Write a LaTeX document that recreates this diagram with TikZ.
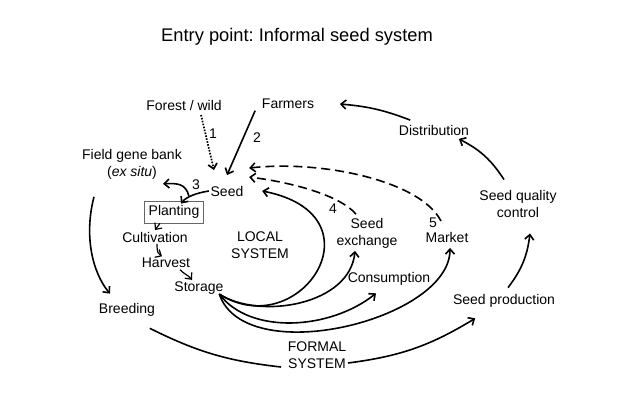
\documentclass[tikz,border=0pt]{standalone}
\usepackage{fontspec}
\setmainfont{Liberation Sans}
\usetikzlibrary{arrows.meta}
\frenchspacing
\begin{document}
\begin{tikzpicture}[x=1pt,y=-1pt,>={Straight Barb[length=5pt,width=9pt]},
    font=\fontsize{14}{17}\selectfont,line width=1.6pt,
    every node/.style={inner sep=1pt,align=center},
    box/.style={draw=black!60,line width=0.8pt,inner xsep=4pt,minimum height=22pt},
    dotline/.style={dash pattern=on 1.6pt off 1.4pt,line width=1.7pt},
    dashline/.style={dash pattern=on 9pt off 5pt}]
  \useasboundingbox (0,0) rectangle (640,400);
  \node (title) at (297,37) {\fontsize{18.3}{20}\selectfont Entry point: Informal seed system};
  % local system
  \node (forest) at (184,105) {Forest / wild};
  \node (farmers) at (288,104) {Farmers};
  \node (genebank) at (132,164) {Field gene bank\\(\textit{ex situ})};
  \node (seed) at (227,191) {Seed};
  \node (planting) [box] at (174,212) {Planting};
  \node (cultiv) at (155,237) {Cultivation};
  \node (harvest) at (166,263) {Harvest};
  \node (storage) at (199,288) {Storage};
  \node (local) at (260,245) {LOCAL\\SYSTEM};
  \node (exch) at (367,233) {Seed\\exchange};
  \node (market) at (447,237) {Market};
  \node (consum) at (389,279) {Consumption};
  \node (n1) at (213,134) {1};
  \node (n2) at (257,138) {2};
  \node (n3) at (196,185) {3};
  \node (n4) at (333,209) {4};
  \node (n5) at (433,223) {5};
  % formal system
  \node (distrib) at (434,130) {Distribution};
  \node (quality) at (518,204) {Seed quality\\control};
  \node (prod) at (504,301) {Seed production};
  \node (breeding) at (127,310) {Breeding};
  \node (formal) at (317,355) {FORMAL\\SYSTEM};

  \draw[->,dotline] ([xshift=17pt,yshift=-3pt]forest.south) -- ([xshift=-13pt,yshift=14pt]seed.north);
  \draw[->] ([xshift=-5pt]farmers.south west) -- ([yshift=9pt]seed.north);
  \draw[->] ([xshift=-20pt,yshift=-5pt]seed.west) .. controls (186,184) and (178,183) .. ([xshift=31pt,yshift=-3pt]genebank.south);
  \draw[->] (seed.west) .. controls (196,193) and (186,197) .. ([xshift=7pt,yshift=-3pt]planting.north);
  \draw[->,line width=1.2pt] ([xshift=-14pt]planting.south) -- (cultiv.north);
  \draw[->,line width=1.2pt] ([xshift=2pt]cultiv.south) .. controls (157,252) and (158,254) .. ([xshift=-4pt]harvest.north);
  \draw[->,line width=1.2pt] ([xshift=14pt]harvest.south) .. controls (184,274) and (188,275) .. ([xshift=-7pt]storage.north);
  \draw[->] ([xshift=-6pt,yshift=2pt]storage.south east) .. controls (300,345) and (385,215) .. ([xshift=17pt]seed.east);
  \draw[->] ([xshift=-6pt,yshift=2pt]storage.south east) .. controls (260,320) and (350,305) .. ([xshift=-12pt,yshift=-1pt]exch.south);
  \draw[->] ([xshift=-6pt,yshift=2pt]storage.south east) .. controls (250,335) and (330,330) .. ([xshift=-13pt,yshift=-6pt]consum.south);
  \draw[->] ([xshift=-6pt,yshift=2pt]storage.south east) .. controls (245,370) and (450,320) .. ([xshift=3pt,yshift=-4pt]market.south);
  \draw[->,dashline] ([xshift=-11pt,yshift=2pt]exch.north) .. controls (340,195) and (290,182) .. ([xshift=4pt,yshift=7pt]seed.north east);
  \draw[->,dashline] ([xshift=-6pt,yshift=9pt]market.north) .. controls (420,180) and (320,160) .. ([xshift=4pt,yshift=16pt]seed.north east);
  % outer cycle
  \draw[->] ([xshift=-38pt,yshift=-16pt]genebank.south) .. controls (84,235) and (92,272) .. ([xshift=-17pt,yshift=8pt]breeding.north);
  \draw ([xshift=-7pt,yshift=-10pt]breeding.south east) to[bend right=10] ([xshift=-5pt,yshift=-12pt]formal.west);
  \draw[->] ([yshift=-8pt]formal.east) to[bend right=12] ([xshift=24pt,yshift=-9pt]prod.south west);
  \draw[->] ([xshift=4pt,yshift=5pt]prod.north) to[bend right=15] ([xshift=12pt,yshift=-14pt]quality.south);
  \draw[->] ([xshift=-14pt,yshift=9pt]quality.north) to[bend right=15] ([xshift=-12pt,yshift=-2pt]distrib.south east);
  \draw[->] ([xshift=13pt,yshift=3pt]distrib.north west) to[bend right=8] ([xshift=24pt]farmers.east);
\end{tikzpicture}
\end{document}
